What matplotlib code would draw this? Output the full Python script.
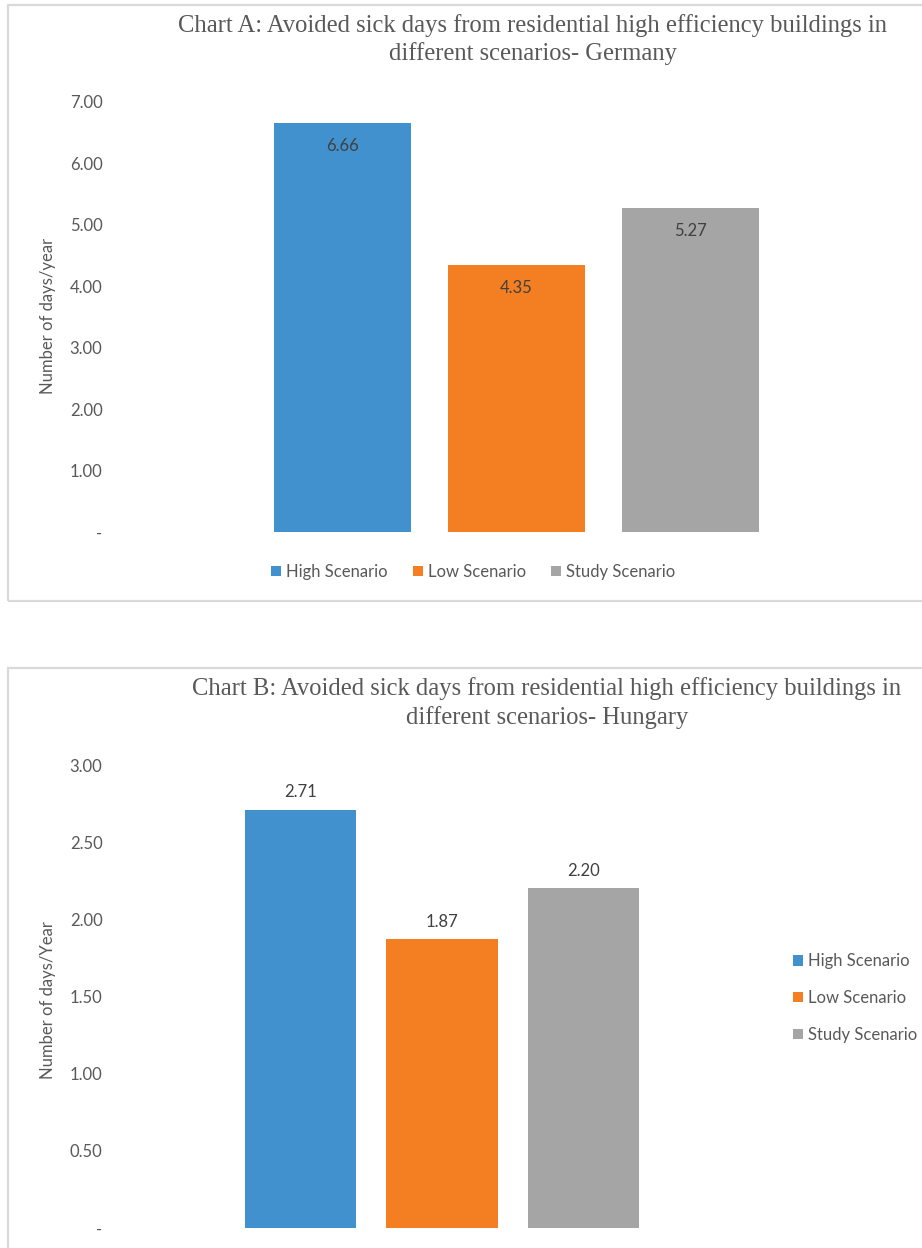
import matplotlib
matplotlib.use("Agg")
import matplotlib.pyplot as plt
from matplotlib.patches import Rectangle, Patch
from matplotlib.ticker import FuncFormatter

# ---- data ----
scenarios = ["High Scenario", "Low Scenario", "Study Scenario"]
germany_days = [6.66, 4.35, 5.27]
hungary_days = [2.71, 1.87, 2.20]
germany_ticks = [0, 1, 2, 3, 4, 5, 6, 7]
hungary_ticks = [0, 0.5, 1.0, 1.5, 2.0, 2.5, 3.0]
colors = ["#4291cf", "#f47f22", "#a5a5a5"]

title_a = "Chart A: Avoided sick days from residential high efficiency buildings in\ndifferent scenarios- Germany"
title_b = "Chart B: Avoided sick days from residential high efficiency buildings in\ndifferent scenarios- Hungary"
ylabel_a = "Number of days/year"
ylabel_b = "Number of days/Year"

W, H = 922, 1248
fig = plt.figure(figsize=(W / 100, H / 100), dpi=100)
fig.patch.set_facecolor("white")

SANS = ["Lato", "DejaVu Sans"]
SERIF = ["Liberation Serif", "DejaVu Serif"]
TXT = "#595959"
FS = 12


def fx(x):
    return x / W


def fy(y):
    return 1 - y / H


def axes_px(left, top, right, bottom):
    return [fx(left), fy(bottom), (right - left) / W, (bottom - top) / H]


def frame(left, top, right, bottom):
    fig.add_artist(Rectangle((fx(left), fy(bottom)), fx(right) - fx(left), fy(top) - fy(bottom),
                             transform=fig.transFigure, facecolor="none",
                             edgecolor="#d9d9d9", linewidth=1.6, clip_on=False))


def tick_fmt(v, pos):
    return "-" if abs(v) < 1e-9 else f"{v:.2f}"


def style_axes(ax, ticks, top):
    ax.set_ylim(0, top)
    ax.set_yticks(ticks)
    ax.yaxis.set_major_formatter(FuncFormatter(tick_fmt))
    ax.set_xticks([])
    for s in ax.spines.values():
        s.set_visible(False)
    ax.tick_params(axis="y", length=0, pad=9, labelsize=FS, labelcolor=TXT)
    for lab in ax.get_yticklabels():
        lab.set_fontfamily(SANS)


# ---- Chart A: Germany ----
frame(8, 5, 940, 601)
axA = fig.add_axes(axes_px(115, 102, 915, 532))
xs = range(len(scenarios))
barsA = axA.bar(xs, germany_days, width=0.787, color=colors, edgecolor="none")
axA.set_xlim(-1.307, 3.29)
style_axes(axA, germany_ticks, 7)
for x, v in zip(xs, germany_days):
    axA.annotate(f"{v:.2f}", (x, v), xytext=(0, -16.5), textcoords="offset points",
                 ha="center", va="center", fontsize=FS, color="#404040", family=SANS)
fig.text(fx(533), fy(39.5), title_a, ha="center", va="center", fontsize=17.7,
         color=TXT, family=SERIF, linespacing=1.3)
fig.text(fx(48), fy(316), ylabel_a, ha="center", va="center", rotation=90,
         fontsize=FS, color=TXT, family=SANS)
handles = [Patch(facecolor=c, edgecolor="none", label=s) for c, s in zip(colors, scenarios)]
legA = fig.legend(handles=handles, loc="center", bbox_to_anchor=(fx(473), fy(572)),
                  ncol=3, frameon=False, handlelength=0.6, handleheight=0.6,
                  handletextpad=0.3, columnspacing=1.5, prop={"family": SANS, "size": FS})
for t in legA.get_texts():
    t.set_color(TXT)

# ---- Chart B: Hungary ----
frame(8, 668, 940, 1260)
axB = fig.add_axes(axes_px(115, 765, 760, 1228))
barsB = axB.bar(xs, hungary_days, width=0.787, color=colors, edgecolor="none")
axB.set_xlim(-1.311, 3.247)
style_axes(axB, hungary_ticks, 3)
for x, v in zip(xs, hungary_days):
    axB.annotate(f"{v:.2f}", (x, v), xytext=(0, 12.5), textcoords="offset points",
                 ha="center", va="center", fontsize=FS, color="#404040", family=SANS)
fig.text(fx(547), fy(703), title_b, ha="center", va="center", fontsize=17.7,
         color=TXT, family=SERIF, linespacing=1.3)
fig.text(fx(48), fy(1000), ylabel_b, ha="center", va="center", rotation=90,
         fontsize=FS, color=TXT, family=SANS)
legB = fig.legend(handles=handles, loc="center left", bbox_to_anchor=(fx(778), fy(998)),
                  ncol=1, frameon=False, handlelength=0.6, handleheight=0.6,
                  handletextpad=0.3, labelspacing=1.25, prop={"family": SANS, "size": FS})
for t in legB.get_texts():
    t.set_color(TXT)

fig.savefig("out.png", dpi=100, facecolor="white")
